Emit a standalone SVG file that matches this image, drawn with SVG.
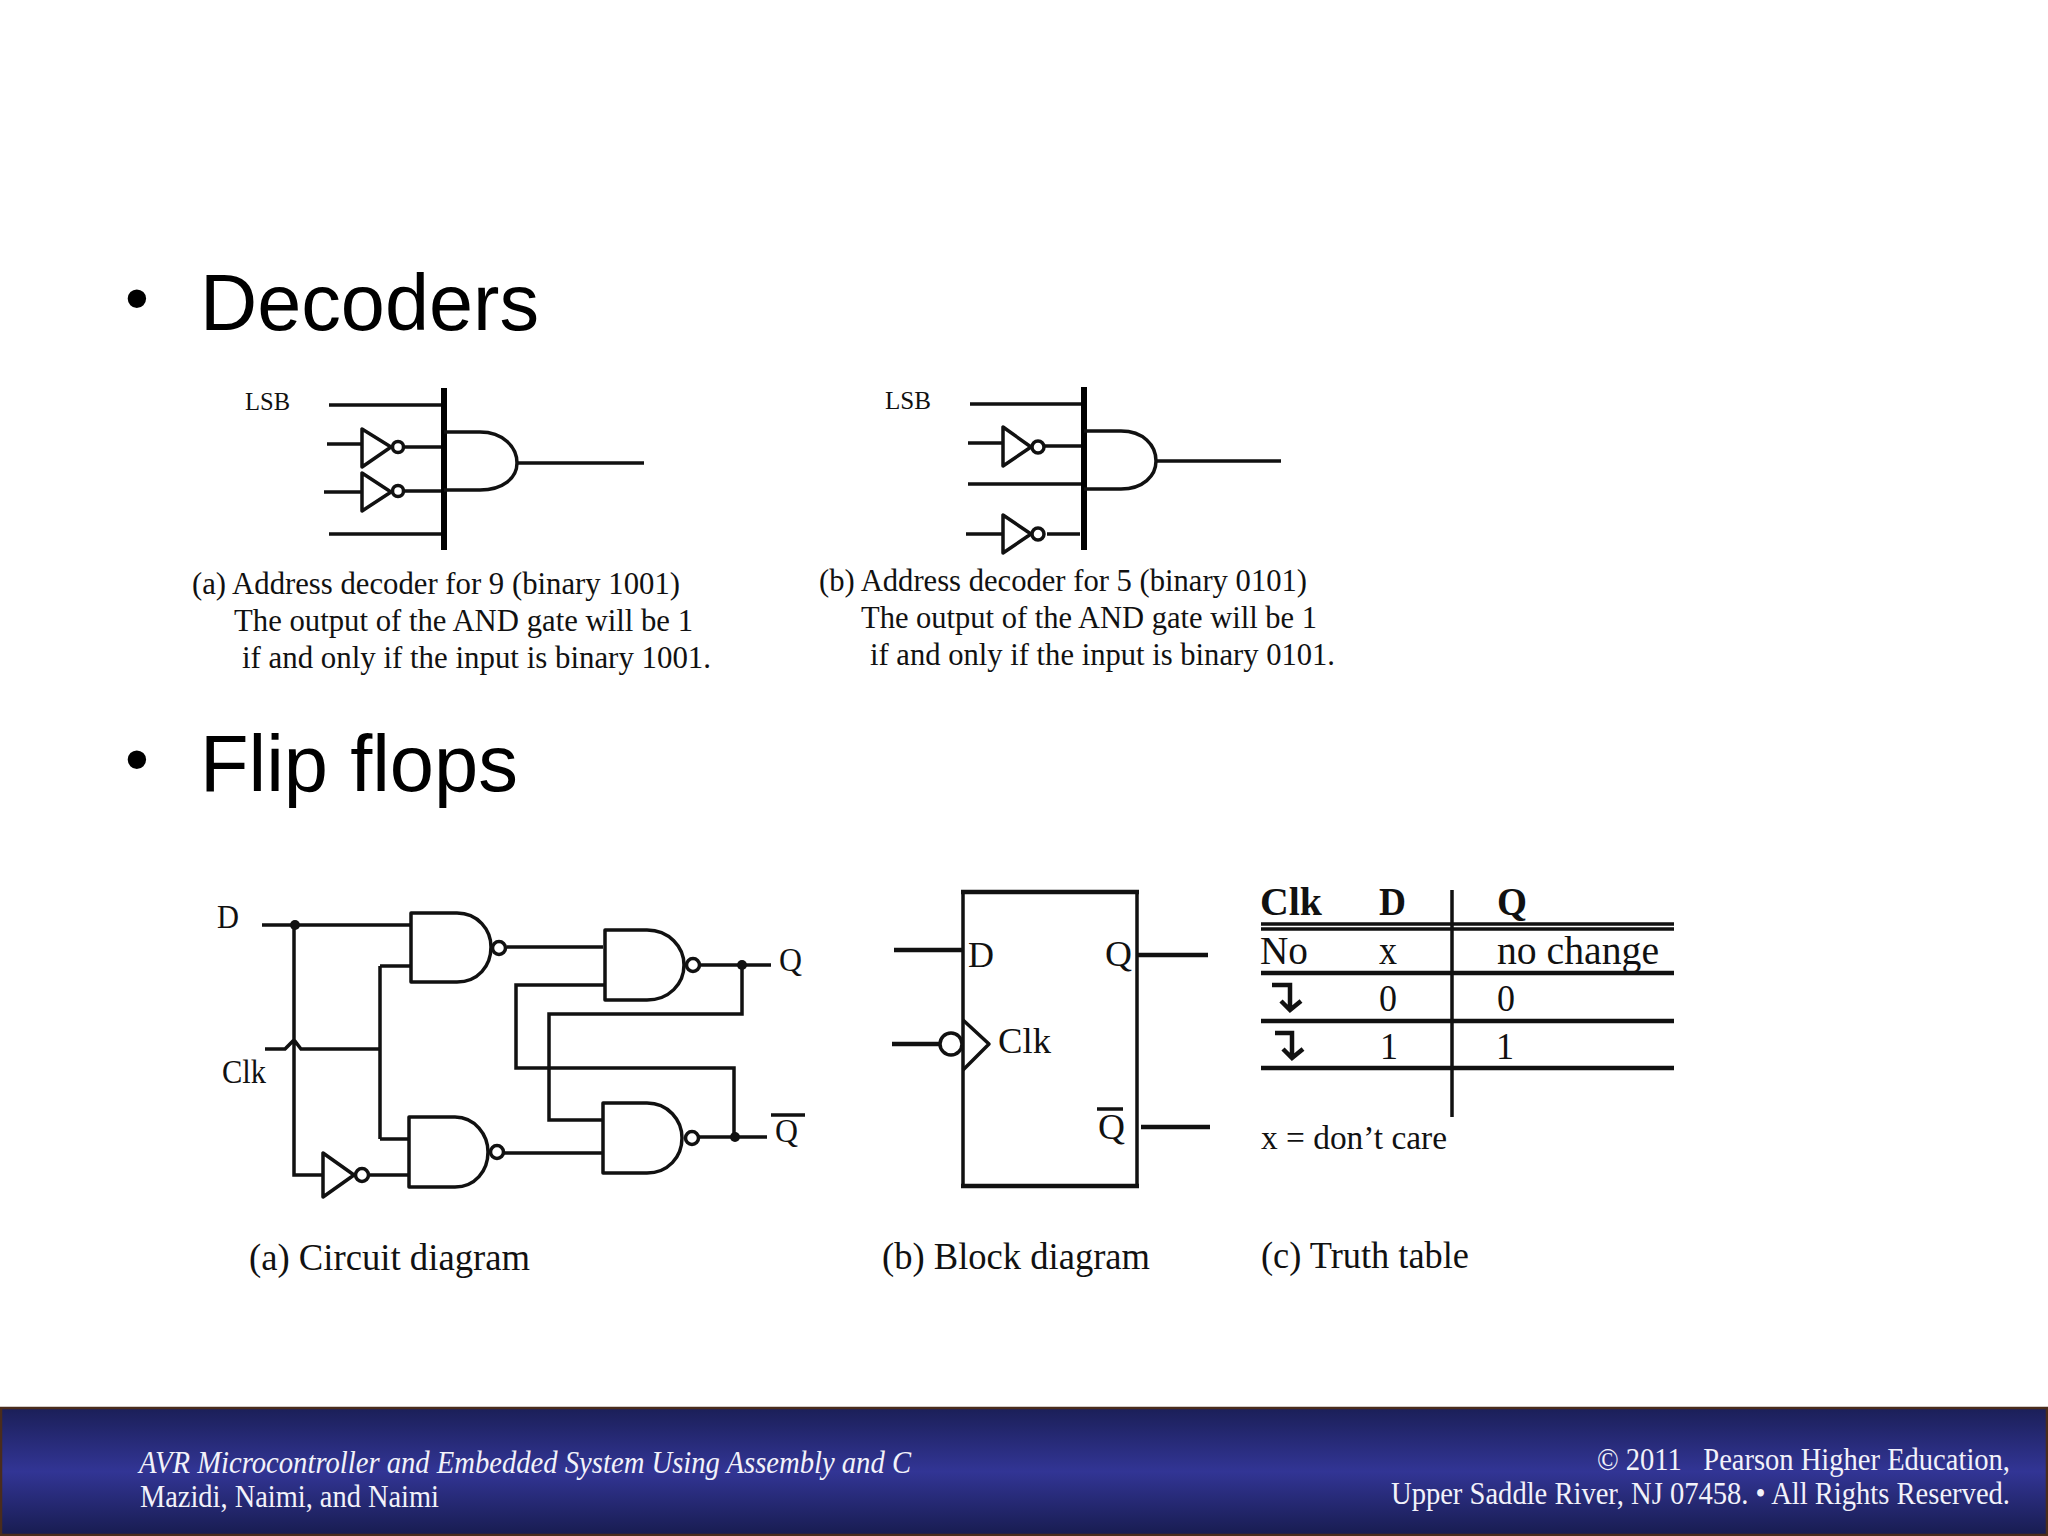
<svg xmlns="http://www.w3.org/2000/svg" width="2048" height="1536" viewBox="0 0 2048 1536">
<defs>
<linearGradient id="band" x1="0" y1="0" x2="0" y2="1">
<stop offset="0" stop-color="#1b1f58"/>
<stop offset="0.5" stop-color="#323595"/>
<stop offset="1" stop-color="#181c50"/>
</linearGradient>
</defs>
<style>
.title{font-family:"Liberation Sans",Arial,sans-serif;font-size:79px;fill:#000}
.bullet{font-family:"Liberation Sans",Arial,sans-serif;font-size:68px;fill:#000}
.s{font-family:"Liberation Serif","Times New Roman",serif;fill:#111}
.cap{font-size:32px}
.lb{font-size:26px}
.ci{font-size:33px}
.bd{font-size:36px}
.hd{font-size:40px;font-weight:bold}
.foot{font-family:"Liberation Serif","Times New Roman",serif;font-size:31px;fill:#f2f2fa}
.g{fill:none;stroke:#111;stroke-width:3.5;stroke-linejoin:round}
.w{fill:none;stroke:#111;stroke-width:3.5}
.w4{fill:none;stroke:#111;stroke-width:4.5}
.bar{fill:none;stroke:#000;stroke-width:6}
.dot{fill:#111}
</style>
<rect width="2048" height="1536" fill="#fff"/>

<g id="title-decoders">
<text class="bullet" x="125" y="321">•</text>
<text class="title" x="200" y="330" textLength="339" lengthAdjust="spacingAndGlyphs">Decoders</text>
</g>
<g id="title-flipflops">
<text class="bullet" x="125" y="782">•</text>
<text class="title" x="200" y="791" textLength="318" lengthAdjust="spacingAndGlyphs">Flip flops</text>
</g>

<g id="connectors">
<!-- decoder a -->
<path class="w" d="M329 405H444M327 444H362M403 447H444M324 492H362M403 491H444M329 534H444M517 463H644"/>
<!-- decoder b -->
<path class="w" d="M970 404H1084M968 443H1003M1044 446H1084M968 484H1084M966 534H1003M1047 534H1080M1157 461H1281"/>
<!-- circuit -->
<path class="w" d="M262 925H411M294 925V1175H322M265 1049H285L294 1040L301 1049H380M380 966V1139M380 966H411M380 1139H409M370 1175H409"/>
<path class="w" d="M507 947H603M701 965H771M742 965V1014H549V1120H602M605 985H516V1068H734V1137M504 1153H602M699 1137H767"/>
<!-- block -->
<path class="w4" d="M894 950H963M1137 955H1208M892 1044H940M1141 1127H1210"/>
</g>

<g id="decoder-a">
<path class="bar" d="M444 388V550"/>
<path class="g" d="M444 432H480C503 432 517 447 517 463C517 478 503 490 480 490H444"/>
<path class="g" d="M362 429V467L391 447ZM362 473V511L391 492Z"/>
<circle class="g" cx="398" cy="447" r="5.5"/>
<circle class="g" cx="398" cy="491" r="5.5"/>
<text class="s lb" x="245" y="410" textLength="45" lengthAdjust="spacingAndGlyphs">LSB</text>
<text class="s cap" x="192" y="594" textLength="488" lengthAdjust="spacingAndGlyphs">(a) Address decoder for 9 (binary 1001)</text>
<text class="s cap" x="234" y="631" textLength="459" lengthAdjust="spacingAndGlyphs">The output of the AND gate will be 1</text>
<text class="s cap" x="242" y="668" textLength="469" lengthAdjust="spacingAndGlyphs">if and only if the input is binary 1001.</text>
</g>

<g id="decoder-b">
<path class="bar" d="M1084 387V550"/>
<path class="g" d="M1084 431H1121C1143 431 1156 445 1156 461C1156 476 1143 489 1121 489H1084"/>
<path class="g" d="M1003 427V466L1031 447ZM1003 515V553L1031 534Z"/>
<circle class="g" cx="1038" cy="447" r="6"/>
<circle class="g" cx="1038" cy="534" r="6"/>
<text class="s lb" x="885" y="409" textLength="46" lengthAdjust="spacingAndGlyphs">LSB</text>
<text class="s cap" x="819" y="591" textLength="488" lengthAdjust="spacingAndGlyphs">(b) Address decoder for 5 (binary 0101)</text>
<text class="s cap" x="861" y="628" textLength="456" lengthAdjust="spacingAndGlyphs">The output of the AND gate will be 1</text>
<text class="s cap" x="870" y="665" textLength="465" lengthAdjust="spacingAndGlyphs">if and only if the input is binary 0101.</text>
</g>

<g id="circuit-labels">
<text class="s ci" x="217" y="928" textLength="22" lengthAdjust="spacingAndGlyphs">D</text>
<text class="s ci" x="222" y="1083" textLength="44" lengthAdjust="spacingAndGlyphs">Clk</text>
<text class="s ci" x="779" y="971" textLength="23" lengthAdjust="spacingAndGlyphs">Q</text>
<text class="s ci" x="775" y="1142" textLength="23" lengthAdjust="spacingAndGlyphs">Q</text>
<path class="w" d="M771 1115H805"/>
<text class="s" x="249" y="1270" textLength="281" lengthAdjust="spacingAndGlyphs" style="font-size:38px">(a) Circuit diagram</text>
</g>
<g id="nand-1">
<path class="g" d="M411 913H457C478 913 491 930 491 947C491 966 478 982 457 982H411Z"/>
<circle class="g" cx="499" cy="948" r="6.5"/>
</g>
<g id="nand-2">
<path class="g" d="M605 930H647C669 930 684 947 684 965C684 984 669 1000 647 1000H605Z"/>
<circle class="g" cx="693" cy="965" r="6.5"/>
</g>
<g id="nand-3">
<path class="g" d="M409 1117H455C475 1117 488 1135 488 1152C488 1171 475 1187 455 1187H409Z"/>
<circle class="g" cx="497" cy="1152" r="6.5"/>
</g>
<g id="nand-4">
<path class="g" d="M603 1103H647C668 1103 682 1120 682 1138C682 1157 668 1173 647 1173H603Z"/>
<circle class="g" cx="692" cy="1138" r="6.5"/>
</g>
<g id="inverter">
<path class="g" d="M323 1153V1197L354 1175Z"/>
<circle class="g" cx="362" cy="1175" r="6.5"/>
</g>
<g id="junctions">
<circle class="dot" cx="295" cy="925" r="5"/>
<circle class="dot" cx="742" cy="965" r="5"/>
<circle class="dot" cx="735" cy="1137" r="5"/>
</g>

<g id="block">
<rect class="g" x="963" y="892" width="174" height="294"/>
<path class="w4" d="M961 892H1139M961 1186H1139"/>
<circle class="g" cx="951" cy="1044" r="11"/>
<path class="g" d="M963 1020L989 1044L963 1070"/>
<text class="s bd" x="968" y="967" textLength="26" lengthAdjust="spacingAndGlyphs">D</text>
<text class="s bd" x="1105" y="966" textLength="27" lengthAdjust="spacingAndGlyphs">Q</text>
<text class="s bd" x="998" y="1053" textLength="53" lengthAdjust="spacingAndGlyphs">Clk</text>
<text class="s bd" x="1098" y="1139" textLength="27" lengthAdjust="spacingAndGlyphs">Q</text>
<path class="w" d="M1097 1109H1123"/>
<text class="s" style="font-size:38px" x="882" y="1269" textLength="268" lengthAdjust="spacingAndGlyphs">(b) Block diagram</text>
</g>

<g id="truth-table">
<path class="w" d="M1261 924H1674M1261 929H1674"/>
<path class="w4" d="M1261 973H1674M1261 1021H1674M1261 1068H1674"/>
<path class="w" d="M1452 890V1117"/>
<text class="s hd" x="1260" y="915" textLength="62" lengthAdjust="spacingAndGlyphs">Clk</text>
<text class="s hd" x="1379" y="915" textLength="27" lengthAdjust="spacingAndGlyphs">D</text>
<text class="s hd" x="1497" y="915" textLength="30" lengthAdjust="spacingAndGlyphs">Q</text>
<text class="s" x="1260" y="964" style="font-size:40px" textLength="48" lengthAdjust="spacingAndGlyphs">No</text>
<text class="s" x="1379" y="964" style="font-size:40px" textLength="18" lengthAdjust="spacingAndGlyphs">x</text>
<text class="s" x="1497" y="964" style="font-size:40px" textLength="162" lengthAdjust="spacingAndGlyphs">no change</text>
<text class="s" x="1379" y="1011" style="font-size:38px" textLength="18" lengthAdjust="spacingAndGlyphs">0</text>
<text class="s" x="1497" y="1011" style="font-size:38px" textLength="18" lengthAdjust="spacingAndGlyphs">0</text>
<text class="s" x="1380" y="1059" style="font-size:38px" textLength="18" lengthAdjust="spacingAndGlyphs">1</text>
<text class="s" x="1496" y="1059" style="font-size:38px" textLength="18" lengthAdjust="spacingAndGlyphs">1</text>
<path class="w4" d="M1272 985H1290V1008M1281 1001L1290 1010L1301 1001"/>
<path class="w4" d="M1275 1033H1292V1056M1283 1049L1292 1058L1303 1049"/>
<text class="s" style="font-size:33px" x="1261" y="1149" textLength="186" lengthAdjust="spacingAndGlyphs">x = don’t care</text>
<text class="s" style="font-size:38px" x="1261" y="1268" textLength="208" lengthAdjust="spacingAndGlyphs">(c) Truth table</text>
</g>

<g id="footer">
<rect x="1" y="1408" width="2046" height="127" fill="url(#band)" stroke="#4a2c1c" stroke-width="2.5"/>
<text class="foot" font-style="italic" x="139" y="1473" textLength="772" lengthAdjust="spacingAndGlyphs">AVR Microcontroller and Embedded System Using Assembly and C</text>
<text class="foot" x="140" y="1507" textLength="299" lengthAdjust="spacingAndGlyphs">Mazidi, Naimi, and Naimi</text>
<text class="foot" x="1597" y="1470" textLength="413" lengthAdjust="spacingAndGlyphs" xml:space="preserve">© 2011   Pearson Higher Education,</text>
<text class="foot" x="1391" y="1504" textLength="619" lengthAdjust="spacingAndGlyphs">Upper Saddle River, NJ 07458. • All Rights Reserved.</text>
</g>
</svg>
